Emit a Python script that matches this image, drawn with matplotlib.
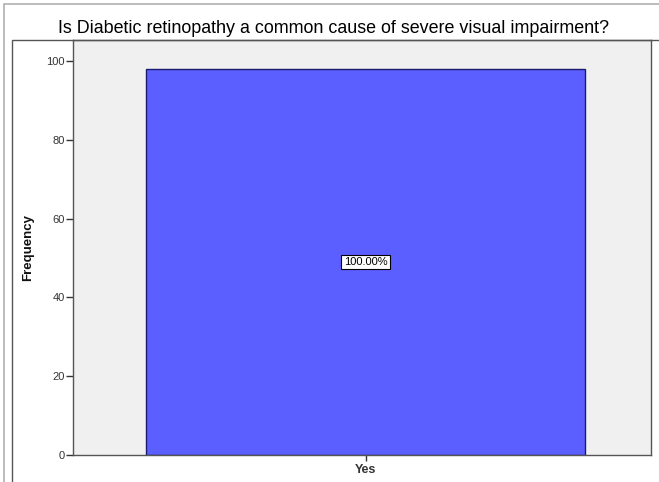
import matplotlib
matplotlib.use("Agg")
from matplotlib import pyplot as plt
from matplotlib.patches import Rectangle

plt.rcParams['font.family'] = ['Liberation Sans', 'DejaVu Sans']

# data
categories = ['Yes']
frequency = [98]
y_ticks = [0, 20, 40, 60, 80, 100]

title = 'Is Diabetic retinopathy a common cause of severe visual impairment?'

fig = plt.figure(figsize=(6.59, 4.82), dpi=100)

# outer and inner frames (SPSS output look)
fig.patches.append(Rectangle((4 / 659, -0.1), 1.0, 1 - 4 / 482 + 0.1,
                             transform=fig.transFigure, fill=False,
                             edgecolor='#b0b0b0', linewidth=1.2))
fig.patches.append(Rectangle((12 / 659, -0.1), 1.0, 1 - 40 / 482 + 0.1,
                             transform=fig.transFigure, fill=False,
                             edgecolor='#555555', linewidth=1.0))

ax = fig.add_axes([73 / 659, 1 - 455 / 482, (651 - 73) / 659, (455 - 40) / 482])
ax.set_facecolor('#f0f0f0')

x = list(range(len(categories)))
bars = ax.bar(x, frequency, width=1.0, color='#5b5fff',
              edgecolor='#1a1a6e', linewidth=1.0)

total = sum(frequency)
for xi, v in zip(x, frequency):
    ax.text(xi, v / 2, f'{v / total * 100:.2f}%', ha='center', va='center',
            fontsize=8, color='black',
            bbox=dict(boxstyle='square,pad=0.2', facecolor='white',
                      edgecolor='black', linewidth=0.8))

ax.set_xlim(-0.666, 0.650)
ax.set_ylim(0, 105.3)
ax.set_yticks(y_ticks)
ax.set_xticks(x)
ax.set_xticklabels(categories, fontsize=9, fontweight='bold', color='#111111')
ax.tick_params(axis='y', labelsize=8, length=5, width=1, colors='#333333', pad=1)
ax.tick_params(axis='x', length=4.5, width=1, colors='#333333', pad=2)

for s in ax.spines.values():
    s.set_color('#555555')
    s.set_linewidth(1.0)

ax.set_ylabel('Frequency', fontsize=9.5, fontweight='bold', labelpad=9,
              color='#111111')
fig.text(334 / 659, 1 - 33 / 482, title, ha='center', va='baseline',
         fontsize=12.9, color='black')

fig.savefig('out.png', dpi=100)
